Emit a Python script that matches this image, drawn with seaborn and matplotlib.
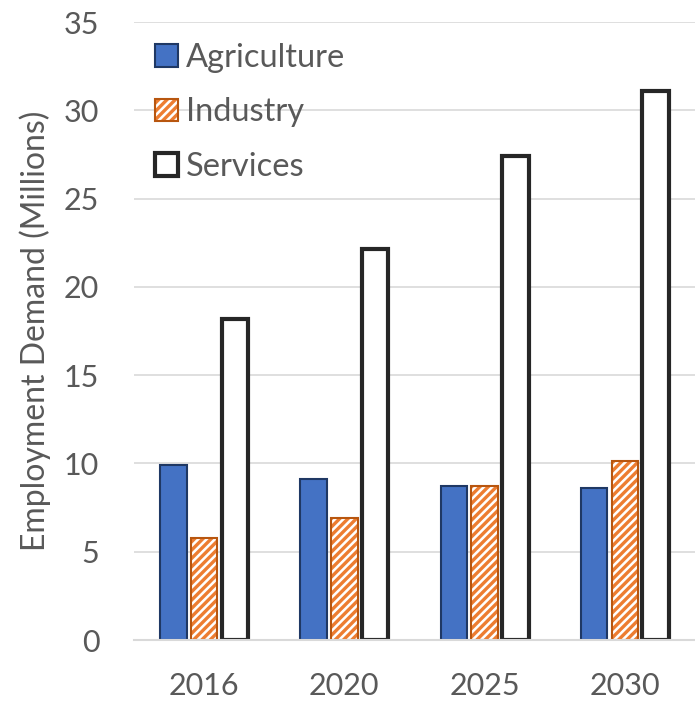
import matplotlib
matplotlib.use("Agg")
import matplotlib.pyplot as plt
import matplotlib.colors as mcolors
import seaborn as sns
import pandas as pd

years = ["2016", "2020", "2025", "2030"]
sectors = ["Agriculture", "Industry", "Services"]
agriculture = [9.9, 9.1, 8.75, 8.6]
industry = [5.8, 6.9, 8.75, 10.15]
services = [18.2, 22.15, 27.4, 31.1]

rows = []
for sector, vals in zip(sectors, [agriculture, industry, services]):
    for y, v in zip(years, vals):
        rows.append({"year": y, "sector": sector, "value": v})
df = pd.DataFrame(rows)

sns.set_theme(style="white")
plt.rcParams["font.family"] = ["Lato", "DejaVu Sans"]
plt.rcParams["hatch.linewidth"] = 2.4

grey_text = "#595959"
orange = "#ED7D31"
fills = {"Agriculture": "#4472C4", "Industry": "white", "Services": "white"}
edges = {"Agriculture": "#1F3864", "Industry": "#B8560F", "Services": "#262626"}
widths = {"Agriculture": 1.5, "Industry": 1.5, "Services": 3.0}

fig = plt.figure(figsize=(6.95, 7.05), dpi=100)
ax = fig.add_axes([134 / 695, 65 / 705, 561 / 695, 618 / 705])

sns.barplot(data=df, x="year", y="value", hue="sector", order=years,
            hue_order=sectors, width=0.66, gap=0.14, ax=ax,
            palette=["#4472C4", orange, "white"], saturation=1,
            legend=False)

for container, sector in zip(ax.containers, sectors):
    for p in container:
        p.set_facecolor(fills[sector])
        p.set_edgecolor(edges[sector])
        p.set_linewidth(widths[sector])
        if sector == "Industry":
            p.set_hatch("////")
            p._hatch_color = mcolors.to_rgba(orange)

ax.set_ylim(0, 35)
ax.set_yticks(range(0, 36, 5))
ax.yaxis.grid(True, color="#D9D9D9", linewidth=1.2)
ax.set_axisbelow(True)
for s in ["top", "right", "left"]:
    ax.spines[s].set_visible(False)
ax.spines["bottom"].set_color("#D9D9D9")
ax.spines["bottom"].set_linewidth(1.5)
ax.tick_params(axis="both", length=0, labelsize=22, colors=grey_text)
ax.tick_params(axis="y", pad=25)
ax.tick_params(axis="x", pad=23)
ax.set_xlabel("")
ax.set_ylabel("Employment Demand (Millions)", fontsize=23, color=grey_text)
ax.yaxis.set_label_coords(-0.148, 0.5)

handles = []
for sector in sectors:
    h = plt.Rectangle((0, 0), 1, 1, facecolor=fills[sector],
                      edgecolor=edges[sector], linewidth=widths[sector],
                      hatch="////" if sector == "Industry" else None)
    if sector == "Industry":
        h._hatch_color = mcolors.to_rgba(orange)
    handles.append(h)
leg = ax.legend(handles, sectors, loc="upper left", bbox_to_anchor=(0.037, 0.966),
                frameon=False, fontsize=23.5, handlelength=0.7, handleheight=0.7,
                handletextpad=0.25, labelspacing=0.75, borderaxespad=0, borderpad=0)
for t in leg.get_texts():
    t.set_color(grey_text)

fig.savefig("out.png", dpi=100)
